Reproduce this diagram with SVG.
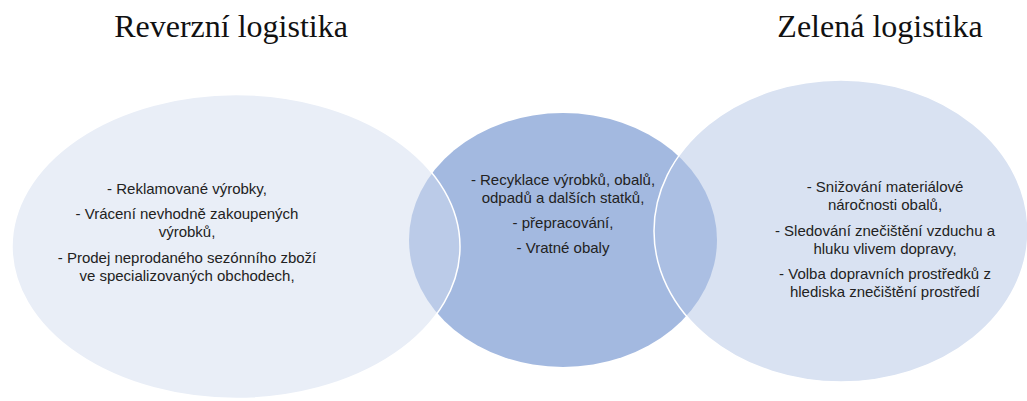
<svg xmlns="http://www.w3.org/2000/svg" width="1027" height="401" viewBox="0 0 1027 401">
<style>
.title{font-family:"Liberation Serif","Times New Roman",serif;font-size:32px;fill:#111;text-anchor:middle}
.body{font-family:"Liberation Sans",Arial,sans-serif;font-size:15px;fill:#222;text-anchor:middle}
.side{stroke:#ffffff;stroke-width:1.5;fill-opacity:0.5}
</style>
<rect width="1027" height="401" fill="#ffffff"/>
<g id="node-center">
<ellipse cx="563" cy="240" rx="154" ry="127" fill="#a3b9e0"/>
</g>
<g id="node-left">
<ellipse class="side" cx="236" cy="246.5" rx="224" ry="152" fill="#d3ddef"/>
</g>
<g id="node-right">
<ellipse class="side" cx="841" cy="231" rx="187" ry="151" fill="#b3c5e5"/>
</g>
<g id="connectors"></g>
<g id="labels">
<text class="title" x="231" y="37">Reverzní logistika</text>
<text class="title" x="880" y="37">Zelená logistika</text>
<text class="body" x="187" y="194">- Reklamované výrobky,</text>
<text class="body" x="187" y="219">- Vrácení nevhodně zakoupených</text>
<text class="body" x="187" y="237">výrobků,</text>
<text class="body" x="187" y="263">- Prodej neprodaného sezónního zboží</text>
<text class="body" x="187" y="281">ve specializovaných obchodech,</text>
<text class="body" x="563" y="185">- Recyklace výrobků, obalů,</text>
<text class="body" x="563" y="203">odpadů a dalších statků,</text>
<text class="body" x="563" y="228">- přepracování,</text>
<text class="body" x="563" y="253">- Vratné obaly</text>
<text class="body" x="885" y="192">- Snižování materiálové</text>
<text class="body" x="885" y="210">náročnosti obalů,</text>
<text class="body" x="885" y="236">- Sledování znečištění vzduchu a</text>
<text class="body" x="885" y="254">hluku vlivem dopravy,</text>
<text class="body" x="885" y="279">- Volba dopravních prostředků z</text>
<text class="body" x="885" y="297">hlediska znečištění prostředí</text>
</g>
</svg>
